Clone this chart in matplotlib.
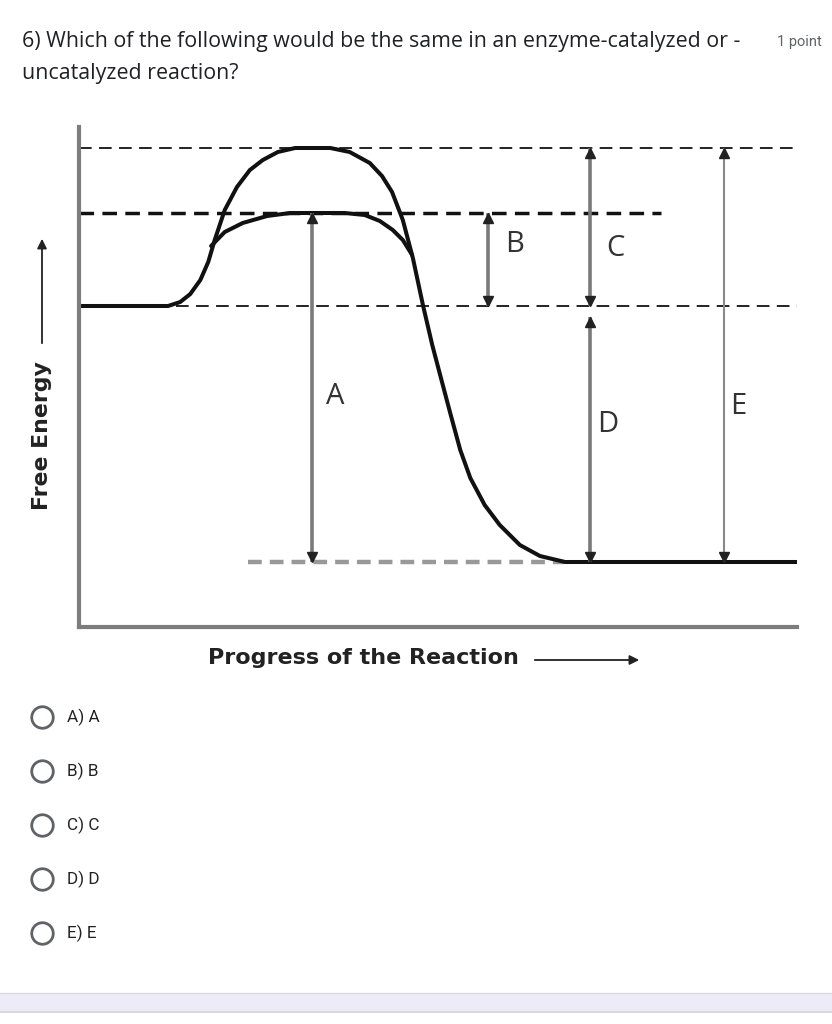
import matplotlib.pyplot as plt

# question page text
question = ["6) Which of the following would be the same in an enzyme-catalyzed or -",
            "uncatalyzed reaction?"]
points_label = "1 point"
options = ["A) A", "B) B", "C) C", "D) D", "E) E"]

# energy levels (free energy units, axis runs 0..100)
reactant = 64.2
product = 13.0
peak_uncat = 95.8
peak_cat = 82.8

# uncatalyzed profile (progress 0..100, energy)
uncat_x = [0, 12.4, 14.1, 15.5, 16.9, 18.0, 18.9, 20.3, 22.0, 23.8, 25.6, 27.7, 30.1,
           35.0, 37.7, 40.5, 42.2, 43.6, 45.1, 46.5, 47.9, 49.2, 50.3, 51.7, 53.1,
           54.5, 56.5, 58.6, 61.4, 64.2, 67.7, 100]
uncat_y = [64.2, 64.2, 65.0, 66.6, 69.4, 73.0, 77.4, 83.4, 88.0, 91.4, 93.4, 95.0, 95.8,
           95.8, 95.0, 92.8, 90.2, 87.0, 81.4, 73.8, 64.4, 56.4, 50.4, 42.8, 35.4,
           29.8, 24.4, 20.4, 16.4, 14.2, 13.0, 13.0]
# catalyzed profile (branches off and rejoins the uncatalyzed one)
cat_x = [18.4, 20.3, 22.8, 26.2, 29.4, 37.0, 39.8, 41.9, 43.7, 45.1, 46.4]
cat_y = [76.2, 79.0, 80.8, 82.2, 82.8, 82.8, 82.4, 81.2, 79.4, 77.4, 74.4]

# labelled double arrows: name, x, bottom, top, label position
arrow_names = ["A", "B", "C", "D", "E"]
arrow_x = [32.5, 57.0, 71.2, 71.2, 89.8]
arrow_lo = [product, reactant, reactant, product, product]
arrow_hi = [peak_cat, peak_cat, peak_uncat, reactant - 2.2, peak_uncat]
label_x = [35.7, 60.6, 74.7, 73.6, 91.8]
label_y = [46.0, 76.4, 75.8, 40.6, 44.0]

fig = plt.figure(figsize=(8.32, 10.24), dpi=100)

# page layer in pixel units
bg = fig.add_axes([0, 0, 1, 1])
bg.set_xlim(0, 832)
bg.set_ylim(1024, 0)
bg.axis('off')

bg.text(22, 41, question[0], fontsize=15.4, family='Open Sans', color='#202124', va='center')
bg.text(22, 74, question[1], fontsize=15.4, family='Open Sans', color='#202124', va='center')
bg.text(822, 42, points_label, fontsize=10.5, family='Roboto', color='#5f6368',
        va='center', ha='right')

for i, opt in enumerate(options):
    y = 717 + 54 * i
    bg.plot(42, y, 'o', ms=15.5, mfc='white', mec='#5f6368', mew=2)
    bg.text(67, y, opt, fontsize=12.3, family='Roboto', color='#202124', va='center')

bg.add_patch(plt.Rectangle((0, 993), 832, 19, facecolor='#eeebf8',
                           edgecolor='none'))
bg.axhline(993, color='#d9d7df', lw=1)
bg.axhline(1012, color='#d9d7df', lw=1.5)

# axis titles of the diagram
bg.text(42, 436, "Free Energy", rotation=90, fontsize=15.8, family='DejaVu Sans',
        weight='bold', color='#222', ha='center', va='center')
bg.annotate("", xy=(42, 236), xytext=(42, 346),
            arrowprops=dict(arrowstyle='-|>', color='#222', lw=1.3,
                            mutation_scale=14))
bg.text(208, 658, "Progress of the Reaction", fontsize=16, family='DejaVu Sans',
        weight='bold', color='#222', ha='left', va='center')
bg.annotate("", xy=(642, 660), xytext=(532, 660),
            arrowprops=dict(arrowstyle='-|>', color='#222', lw=1.3,
                            mutation_scale=14))

# diagram
ax = fig.add_axes([79 / 832, 1 - 627 / 1024, 718 / 832, 500 / 1024])
ax.set_facecolor('none')
ax.set_xlim(0, 100)
ax.set_ylim(0, 100)
ax.set_xticks([])
ax.set_yticks([])
for s in ['top', 'right']:
    ax.spines[s].set_visible(False)
for s in ['left', 'bottom']:
    ax.spines[s].set_color('#7d7d7d')
    ax.spines[s].set_linewidth(3)

# guide lines
ax.plot([0, 100], [peak_uncat, peak_uncat], color='#222', lw=1.4, dashes=(6.5, 3.8))
ax.plot([0, 81], [peak_cat, peak_cat], color='#111', lw=2.5, dashes=(4.2, 2.4))
ax.plot([13.5, 100], [reactant, reactant], color='#222', lw=1.4, dashes=(6.5, 3.8))
ax.plot([23.5, 67.5], [product, product], color='#999', lw=3.2, dashes=(3.1, 1.8))

# energy profiles
ax.plot(uncat_x, uncat_y, color='#111', lw=2.9, solid_joinstyle='round',
        solid_capstyle='round')
ax.plot(cat_x, cat_y, color='#111', lw=2.9, solid_joinstyle='round',
        solid_capstyle='round')

for name, x, lo, hi, lx, ly in zip(arrow_names, arrow_x, arrow_lo, arrow_hi,
                                   label_x, label_y):
    thin = name == "E"
    ax.plot([x, x], [lo, hi], color='#8a8a8a' if thin else '#7a7a7a',
            lw=1.5 if thin else 2.6, solid_capstyle='butt')
    ax.plot(x, hi - 1.0, '^', color='#222', ms=7)
    ax.plot(x, lo + 1.0, 'v', color='#222', ms=7)
    ax.text(lx, ly, name, fontsize=21, family='Open Sans', color='#333',
            ha='center', va='center')

fig.savefig('out.png', dpi=100)
